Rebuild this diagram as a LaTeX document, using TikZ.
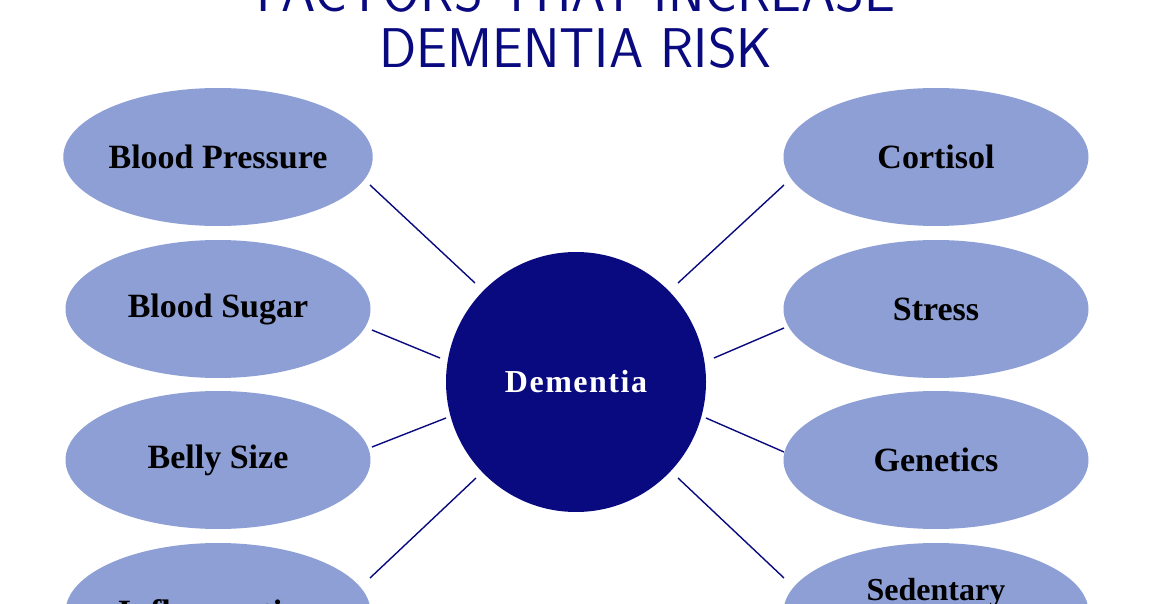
\documentclass[tikz,border=0pt]{standalone}
\usepackage{fontspec}
\usetikzlibrary{shapes.geometric}
\setmainfont{Liberation Serif}
\definecolor{navy}{HTML}{0A0A80}
\definecolor{lav}{HTML}{8E9FD6}
\begin{document}
\begin{tikzpicture}[x=1pt,y=-1pt,
  factor/.style={ellipse,fill=lav,minimum width=305pt,minimum height=138pt,inner sep=0pt,font=\fontsize{34}{36}\selectfont\bfseries,align=center},
  link/.style={draw=navy,line width=1.4pt},
  ttl/.style={text=navy,font=\sffamily\fontsize{56}{58}\selectfont,xscale=0.98,inner sep=0pt}]
\useasboundingbox (0,0) rectangle (1152,604);
\node[ttl] (t1) at (576,-8) {FACTORS THAT INCREASE};
\node[ttl] (t2) at (576,48) {DEMENTIA RISK};
\node[circle,fill=navy,minimum size=260pt,inner sep=0pt,text=white,font=\fontsize{32}{34}\selectfont\bfseries] (c) at (576,382) {D\hspace{1.5pt}e\hspace{1.5pt}m\hspace{1.5pt}e\hspace{1.5pt}n\hspace{1.5pt}t\hspace{1.5pt}i\hspace{1.5pt}a};
\node[factor] (l1) at (218,157) {Blood Pressure};
\node[factor] (l2) at (218,309) {Blood Sugar};
\node[factor] (l3) at (218,460) {Belly Size};
\node[factor] (l4) at (218,612) {Inflammation};
\node[factor] (r1) at (936,157) {Cortisol};
\node[factor] (r2) at (936,309) {Stress};
\node[factor] (r3) at (936,460) {Genetics};
\node[factor,font=\fontsize{32}{38}\selectfont\bfseries] (r4) at (936,612) {Sedentary\\Lifestyle};
\coordinate (a1) at (370,185); \coordinate (b1) at (475,283);
\coordinate (a2) at (372,330); \coordinate (b2) at (440,358);
\coordinate (a3) at (372,447); \coordinate (b3) at (446,418);
\coordinate (a4) at (370,578); \coordinate (b4) at (476,478);
\coordinate (a5) at (784,185); \coordinate (b5) at (678,283);
\coordinate (a6) at (784,328); \coordinate (b6) at (714,358);
\coordinate (a7) at (784,452); \coordinate (b7) at (706,418);
\coordinate (a8) at (784,578); \coordinate (b8) at (678,478);
\foreach \i in {1,...,8} \draw[link] (a\i) -- (b\i);
\end{tikzpicture}
\end{document}
